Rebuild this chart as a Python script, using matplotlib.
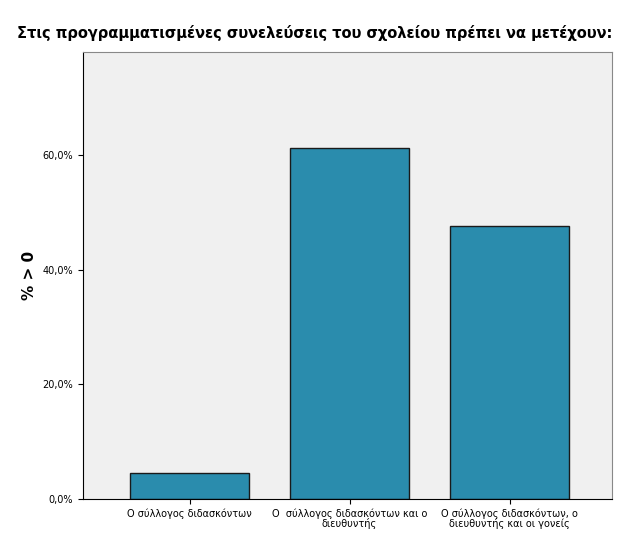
import matplotlib
matplotlib.use("Agg")
import matplotlib.pyplot as plt
from matplotlib.ticker import FuncFormatter

categories = ["Ο σύλλογος διδασκόντων", "Ο  σύλλογος διδασκόντων και ο\nδιευθυντής", "Ο σύλλογος διδασκόντων, ο\nδιευθυντής και οι γονείς"]
values = [4.5, 61.2, 47.6]
yticks = [0, 20, 40, 60]

fig = plt.figure(figsize=(6.29, 5.44), dpi=100)
ax = fig.add_axes([0.132, 0.0827, 0.841, 0.8213])
ax.set_facecolor("#F0F0F0")
ax.bar(range(3), values, width=0.744, color="#2A8CAD", edgecolor="#1a1a1a", linewidth=1)
ax.set_xlim(-0.666, 2.64)
ax.set_ylim(0, 78)
ax.set_yticks(yticks)
ax.yaxis.set_major_formatter(FuncFormatter(lambda v, p: f"{v:.1f}%".replace(".", ",")))
ax.set_xticks(range(3))
ax.set_xticklabels(categories, fontsize=7, linespacing=0.9)
ax.tick_params(axis="y", labelsize=7)
for s in ["top", "right"]:
    ax.spines[s].set_color("#888888")
ax.set_ylabel("% > 0", fontsize=11, fontweight="bold")
fig.text(0.5, 0.93, "Στις προγραμματισμένες συνελεύσεις του σχολείου πρέπει να μετέχουν:",
         ha="center", fontsize=10.5, fontweight="bold")
fig.savefig("out.png", dpi=100)
